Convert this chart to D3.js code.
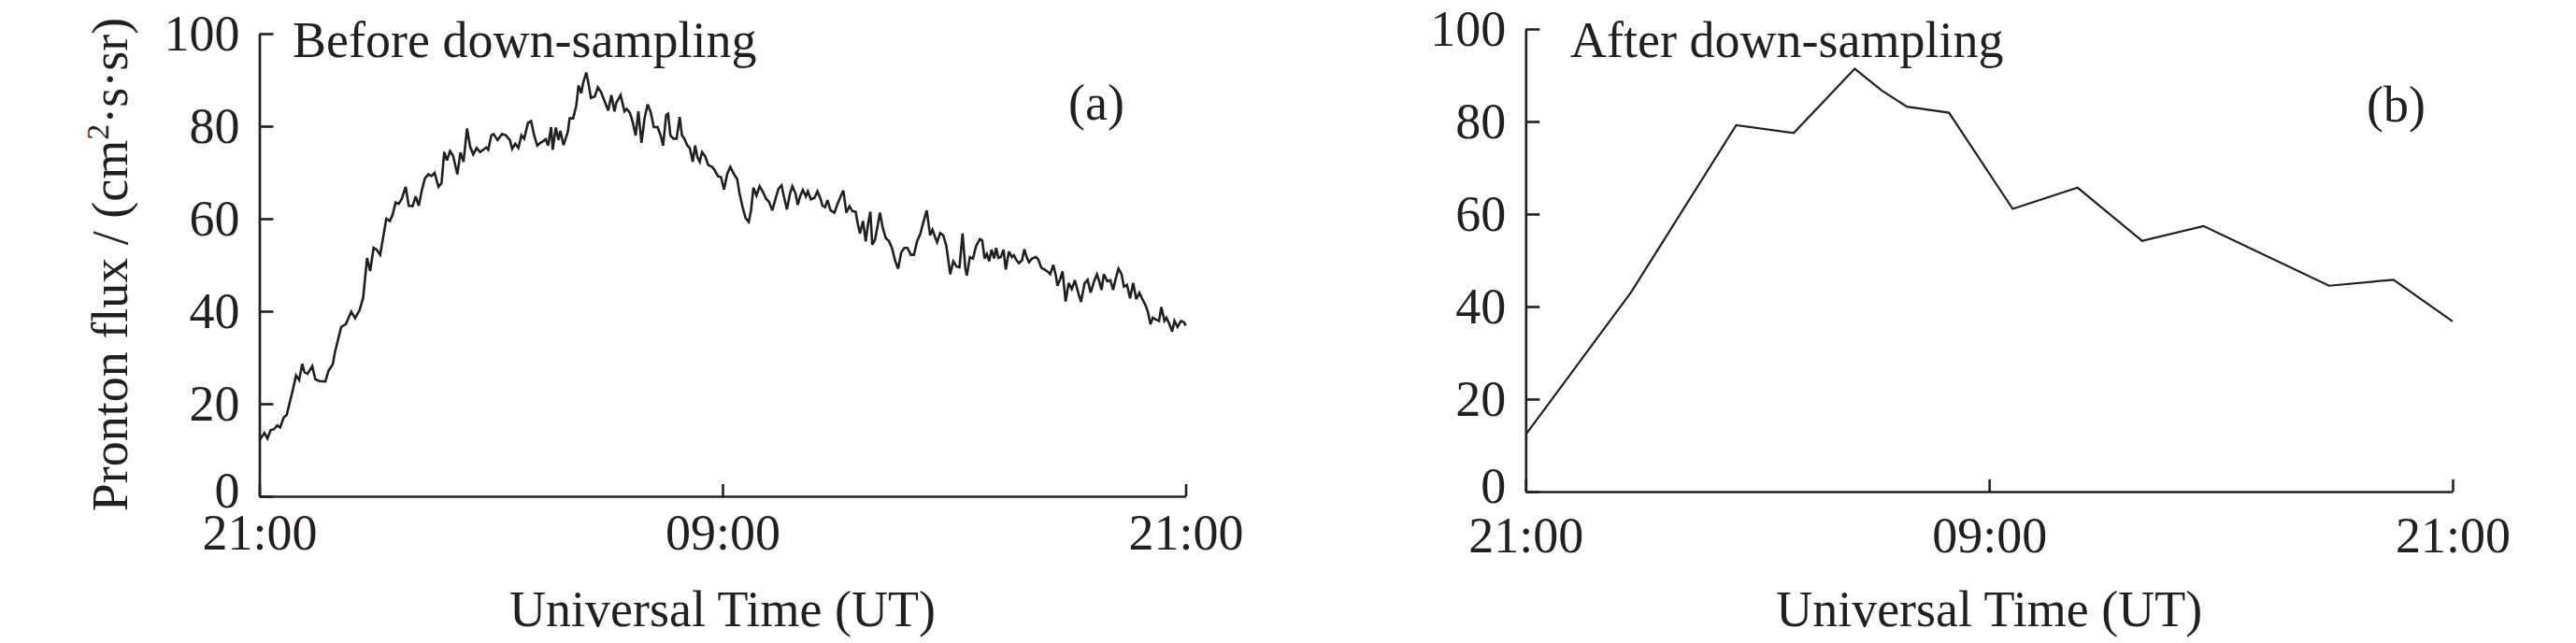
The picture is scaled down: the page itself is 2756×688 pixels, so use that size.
<!DOCTYPE html>
<html><head><meta charset="utf-8">
<script src="https://cdn.jsdelivr.net/npm/d3@7"></script>
<style>html,body{margin:0;padding:0;background:#fff;} svg{display:block}</style>
</head><body>
<svg id="chart" width="2756" height="688"></svg>
<script>
// ---- data ----
const timeTicks = [0, 12, 24];                       // hours after 21:00 UT
const timeTickLabels = ["21:00", "09:00", "21:00"];
const fluxTicks = [0, 20, 40, 60, 80, 100];
const panelTitles = ["Before down-sampling", "After down-sampling"];
const panelTags = ["(a)", "(b)"];
const xTitle = "Universal Time (UT)";

const rawTimes = [0.02,0.13,0.21,0.29,0.38,0.46,0.54,0.63,0.71,0.79,0.87,0.95,1.03,1.11,1.17,1.25,1.37,1.45,1.55,1.71,1.79,1.90,1.96,2.04,2.12,2.24,2.38,2.48,2.60,2.69,2.79,2.87,2.96,3.04,3.13,3.21,3.29,3.38,3.45,3.53,3.61,3.69,3.79,3.87,3.97,4.05,4.13,4.21,4.29,4.38,4.46,4.54,4.64,4.72,4.79,4.86,4.94,5.02,5.13,5.21,5.29,5.38,5.46,5.54,5.63,5.72,5.80,5.88,5.93,6.01,6.07,
6.17,6.29,6.39,6.49,6.55,6.63,6.71,6.79,6.86,6.96,7.04,7.12,7.20,7.28,7.36,7.42,7.48,7.56,7.60,7.68,7.75,7.80,7.88,7.99,8.04,8.13,8.21,8.27,8.34,8.39,8.47,8.53,8.59,8.69,8.77,8.85,8.93,9.04,9.12,9.20,9.25,9.36,9.46,9.52,9.60,9.67,9.75,9.82,9.90,9.98,10.06,10.14,10.22,10.32,10.41,10.46,10.54,10.59,10.65,10.73,10.81,10.89,10.95,11.00,11.09,11.15,11.23,11.29,11.35,11.41,11.47,11.55,11.63,11.73,11.79,11.88,11.96,12.04,12.12,12.20,
12.30,12.38,12.44,12.52,12.60,12.68,12.74,12.80,12.88,12.96,13.04,13.13,13.21,13.29,13.37,13.45,13.53,13.59,13.67,13.75,13.81,13.89,13.95,14.01,14.08,14.16,14.21,14.29,14.38,14.46,14.54,14.59,14.66,14.72,14.80,14.90,14.98,15.06,15.13,15.21,15.29,15.37,15.45,15.50,15.56,15.64,15.71,15.77,15.83,15.88,15.95,16.01,16.08,16.15,16.23,16.31,16.39,16.47,16.55,16.63,16.71,16.79,16.88,16.96,17.04,17.12,17.20,17.29,17.38,17.44,17.50,17.56,17.64,17.72,17.80,17.90,17.98,18.06,18.14,18.22,18.29,18.33,18.41,
18.49,18.57,18.67,18.73,18.79,18.85,18.91,18.97,19.04,19.09,19.15,19.21,19.28,19.34,19.42,19.50,19.55,19.62,19.68,19.76,19.82,19.88,19.94,20.02,20.12,20.18,20.26,20.34,20.42,20.49,20.57,20.63,20.68,20.75,20.81,20.89,20.97,21.05,21.13,21.23,21.29,21.38,21.46,21.54,21.62,21.70,21.75,21.82,21.88,21.97,22.05,22.12,22.18,22.26,22.34,22.40,22.48,22.56,22.64,22.72,22.80,22.88,22.96,23.02,23.09,23.15,23.23,23.31,23.37,23.45,23.50,23.57,23.65,23.71,23.79,23.88,23.96,24.00];

const rawFlux = [12.3,13.7,12.5,14.3,14.5,15.3,14.9,17.0,17.6,20.4,23.1,26.1,25.1,28.6,26.8,26.5,28.1,25.3,24.9,24.8,27.1,28.5,31.2,33.9,36.6,37.2,39.9,38.5,40.3,43.0,51.5,48.7,53.7,53.3,52.2,56.1,60.0,59.5,60.8,63.5,63.2,64.3,66.9,62.8,62.7,64.8,62.8,66.2,68.7,69.6,69.2,69.9,66.9,67.7,74.4,72.6,74.6,73.6,69.6,74.3,72.3,79.5,75.6,73.9,75.3,74.4,74.9,75.4,74.9,78.0,78.3,
77.0,78.3,78.0,77.0,75.1,76.2,75.3,78.0,77.3,80.7,81.1,78.0,75.8,76.4,76.8,77.2,75.8,79.8,74.9,79.7,77.0,79.0,75.9,78.7,81.7,81.7,84.4,88.8,87.1,89.4,91.6,89.1,86.1,86.4,88.4,87.4,85.7,83.4,86.7,83.2,85.1,86.7,83.2,83.7,82.9,81.0,78.0,83.2,76.4,81.7,84.7,83.0,79.8,79.8,77.6,75.8,82.4,82.7,78.0,77.3,77.3,82.0,78.0,77.5,75.8,75.3,72.3,75.8,73.3,72.3,74.4,73.5,71.6,71.2,70.6,69.2,69.0,66.3,69.6,71.2,
69.6,68.6,65.5,62.5,60.1,59.3,61.8,66.7,65.0,67.0,65.9,64.3,63.6,61.8,64.2,66.5,67.2,64.8,62.0,65.5,67.0,65.5,63.0,64.8,66.2,64.8,65.9,64.2,64.5,65.9,64.3,62.8,62.5,64.0,61.8,61.3,63.2,64.8,66.1,61.3,62.7,61.6,61.5,59.1,56.8,59.5,55.1,58.8,61.5,54.4,55.4,58.1,61.3,58.1,55.8,55.2,53.7,51.0,49.2,52.7,53.7,53.7,52.2,52.2,55.1,56.6,59.1,61.8,56.4,57.6,56.2,54.9,56.9,56.4,54.1,48.0,50.8,49.7,49.5,56.8,49.4,47.7,51.7,
51.4,54.1,55.6,55.3,51.4,52.4,50.8,53.3,51.4,53.7,51.5,51.7,53.3,49.0,52.9,51.7,52.1,51.0,50.4,51.0,53.4,51.7,50.6,51.4,51.7,51.2,49.4,49.0,48.6,48.0,50.0,48.0,45.5,47.0,48.6,42.1,46.1,44.8,46.7,43.6,42.0,46.0,46.8,44.0,46.3,48.0,46.8,44.6,48.0,46.5,46.7,44.6,46.8,49.2,48.0,45.3,45.7,42.8,46.1,42.6,44.0,42.6,41.3,39.9,37.2,38.6,38.2,37.9,40.9,37.9,38.6,37.4,35.6,37.9,36.6,37.9,37.6,36.9];

const dsTimes = [0, 2.73, 5.45, 6.94, 8.52, 9.22, 9.87, 10.96, 12.61, 14.29, 15.96, 17.55, 20.80, 22.47, 24.0];
const dsFlux  = [12.3, 43.1, 79.2, 77.5, 91.4, 86.7, 83.2, 81.9, 61.1, 65.7, 54.2, 57.4, 44.5, 45.8, 36.8];

// ---- layout ----
const INK = "#231f20";
const FONT = "'Liberation Serif','Times New Roman',Times,serif";
const panels = [
  {times: rawTimes, flux: rawFlux, x0: 277.5, x1: 1268.5, yb: 531, yt: 36, xPad: 19, lw: 2.6,
   title: [313, 61], tag: [1143, 128], xtitleY: 670, ylabel: true},
  {times: dsTimes, flux: dsFlux, x0: 1632.3, x1: 2624, yb: 526, yt: 31, xPad: 27, lw: 2.2,
   title: [1680, 61], tag: [2532, 130], xtitleY: 670, ylabel: false}
];

const svg = d3.select("#chart");

panels.forEach((p, i) => {
  const x = d3.scaleLinear().domain([0, 24]).range([p.x0, p.x1]);
  const y = d3.scaleLinear().domain([0, 100]).range([p.yb, p.yt]);
  const g = svg.append("g");

  const yAxis = d3.axisLeft(y).tickValues(fluxTicks).tickFormat(d3.format("d"))
    .tickSizeInner(-15).tickSizeOuter(0).tickPadding(21);
  const gy = g.append("g").attr("transform", `translate(${p.x0},0)`).call(yAxis);
  // the "0" label sits slightly raised, clear of the time labels
  gy.selectAll(".tick text").filter(d => d === 0).attr("dy", "0.22em");

  const xAxis = d3.axisBottom(x).tickValues(timeTicks).tickFormat((d, k) => timeTickLabels[k])
    .tickSizeInner(-13).tickSizeOuter(0).tickPadding(p.xPad);
  const gx = g.append("g").attr("transform", `translate(0,${p.yb})`).call(xAxis);

  [gx, gy].forEach(a => {
    a.select(".domain").attr("stroke", INK).attr("stroke-width", 2.7);
    a.selectAll(".tick line").attr("stroke", INK).attr("stroke-width", 2.6);
    a.selectAll(".tick text").attr("fill", INK).style("font-family", FONT).style("font-size", "54px");
  });

  const line = d3.line().x((d) => x(d[0])).y((d) => y(d[1]));
  const pts = p.times.map((t, k) => [t, p.flux[k]]);
  g.append("path").datum(pts).attr("d", line)
    .attr("fill", "none").attr("stroke", INK).attr("stroke-width", p.lw)
    .attr("stroke-linejoin", "miter").attr("stroke-miterlimit", 3);

  g.append("text").attr("x", p.title[0]).attr("y", p.title[1]).text(panelTitles[i])
    .attr("fill", INK).style("font-family", FONT).style("font-size", "54px");
  g.append("text").attr("x", p.tag[0]).attr("y", p.tag[1]).text(panelTags[i])
    .attr("fill", INK).style("font-family", FONT).style("font-size", "54px");
  g.append("text").attr("x", (p.x0 + p.x1) / 2).attr("y", p.xtitleY).attr("text-anchor", "middle")
    .text(xTitle).attr("fill", INK).style("font-family", FONT).style("font-size", "54px");

  if (p.ylabel) {
    const t = g.append("text").attr("transform", "translate(136,283) rotate(-90)")
      .attr("text-anchor", "middle").attr("fill", INK)
      .style("font-family", FONT).style("font-size", "54px");
    t.append("tspan").text("Pronton flux / (cm");
    t.append("tspan").attr("dy", -20).style("font-size", "34px").text("2");
    t.append("tspan").attr("dy", 20).text("\u00B7s\u00B7sr)");
  }
});
</script>
</body></html>
